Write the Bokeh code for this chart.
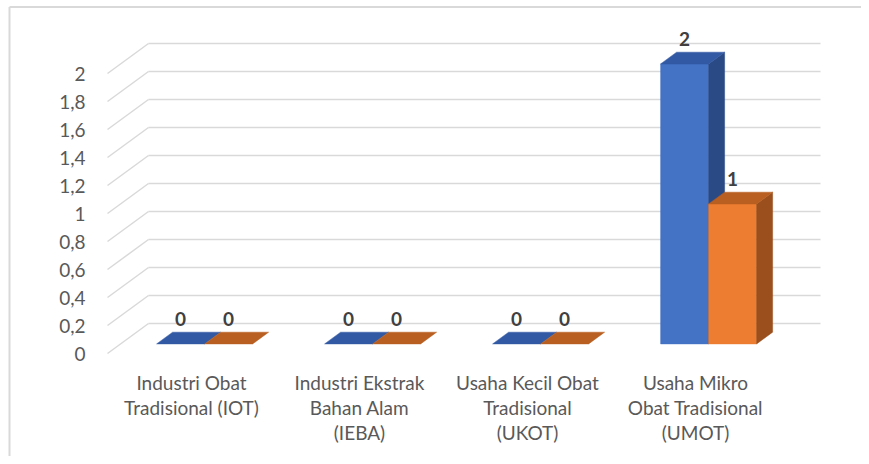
from bokeh.plotting import figure
from bokeh.models import Range1d
from bokeh.core.properties import value
from bokeh.embed import file_html
from bokeh.resources import INLINE

# ---- data ----
categories = [
    "Industri Obat\nTradisional (IOT)",
    "Industri Ekstrak\nBahan Alam\n(IEBA)",
    "Usaha Kecil Obat\nTradisional\n(UKOT)",
    "Usaha Mikro\nObat Tradisional\n(UMOT)",
]
series_a = [0, 0, 0, 2]
series_b = [0, 0, 0, 1]
y_ticks = [0, 0.2, 0.4, 0.6, 0.8, 1.0, 1.2, 1.4, 1.6, 1.8, 2.0]
y_tick_labels = ["0", "0,2", "0,4", "0,6", "0,8", "1", "1,2", "1,4", "1,6", "1,8", "2"]

# ---- geometry (canvas px) ----
W, H = 861, 456
PX_X = 168.0   # px per category
PX_Y = 140.0   # px per value unit
X0 = 191.0     # canvas x of first category centre (front plane)
Y0 = 353.0     # canvas y of value 0 (front plane)
DX = 41.0 / PX_X   # full depth in x units
DY = 30.0 / PX_Y   # full depth in y units
F0, F1 = 0.32, 0.71  # bar depth span (fraction of full depth)
BW = 48.0 / PX_X     # bar width

p = figure(width=W, height=H,
           x_range=Range1d(-X0 / PX_X, (W - X0) / PX_X),
           y_range=Range1d(-(H - Y0) / PX_Y, Y0 / PX_Y),
           output_backend="svg", toolbar_location=None,
           x_axis_type=None, y_axis_type=None, min_border=0)
p.grid.visible = False
p.outline_line_color = None
p.background_fill_color = "white"
p.border_fill_color = "white"

n = len(categories)
left_f = -0.5
right_f = n - 0.5

# chart-area border (left and top)
xs0 = p.x_range.start + 9.0 / PX_X
ytop = p.y_range.end - 6.5 / PX_Y
p.line([xs0, xs0], [p.y_range.start, ytop], line_color="#D9D9D9", line_width=2)
p.line([xs0, p.x_range.end], [ytop, ytop], line_color="#D9D9D9", line_width=2)

# gridlines: diagonals on the left wall + horizontals on the back wall
p.multi_line(xs=[[left_f, left_f + DX] for _ in y_ticks],
             ys=[[t, t + DY] for t in y_ticks],
             line_color="#D9D9D9", line_width=1.5)
p.multi_line(xs=[[left_f + DX, right_f + DX] for _ in y_ticks],
             ys=[[t + DY, t + DY] for t in y_ticks],
             line_color="#D9D9D9", line_width=1.5)

def faces(vals, offset):
    fr_x, fr_y, tp_x, tp_y, sd_x, sd_y = [], [], [], [], [], []
    for i, v in enumerate(vals):
        a = i + offset
        b = a + BW
        a0, b0 = a + F0 * DX, b + F0 * DX
        a1, b1 = a + F1 * DX, b + F1 * DX
        y0f, y0b = F0 * DY, F1 * DY
        tp_x.append([a0, b0, b1, a1])
        tp_y.append([v + y0f, v + y0f, v + y0b, v + y0b])
        if v > 0:
            fr_x.append([a0, b0, b0, a0])
            fr_y.append([y0f, y0f, v + y0f, v + y0f])
            sd_x.append([b0, b1, b1, b0])
            sd_y.append([y0f, y0b, v + y0b, v + y0f])
    return fr_x, fr_y, tp_x, tp_y, sd_x, sd_y

for vals, off, c_front, c_top, c_side in [
        (series_a, -BW, "#4472C4", "#3259A3", "#2A4A86"),
        (series_b, 0.0, "#ED7D31", "#B85F21", "#9A4F1C")]:
    fx, fy, tx, ty, sx, sy = faces(vals, off)
    if fx:
        p.patches(fx, fy, fill_color=c_front, line_color=c_front, line_width=0.5)
        p.patches(sx, sy, fill_color=c_side, line_color=c_side, line_width=0.5)
    p.patches(tx, ty, fill_color=c_top, line_color=c_top, line_width=0.5)
    # data labels
    lx = [i + off + BW / 2 + F0 * DX for i in range(n)]
    ly = [v + F1 * DY + 13.0 / PX_Y for v in vals]
    p.text(x=lx, y=ly, text=[str(v) for v in vals],
           text_font=value("Lato"), text_font_style="bold",
           text_font_size="19px", text_color="#404040",
           text_align="center", text_baseline="middle")

# y tick labels
p.text(x=[left_f - 22.0 / PX_X] * len(y_ticks), y=y_ticks, text=y_tick_labels,
       text_font=value("Lato"), text_font_size="19px", text_color="#595959",
       text_align="right", text_baseline="middle")

# category labels
p.text(x=list(range(n)), y=[-(370.0 - Y0) / PX_Y] * n, text=categories,
       text_font=value("Lato"), text_font_size="19px", text_color="#595959",
       text_align="center", text_baseline="top", text_line_height=1.1)

open("out.html", "w").write(file_html(p, INLINE))
